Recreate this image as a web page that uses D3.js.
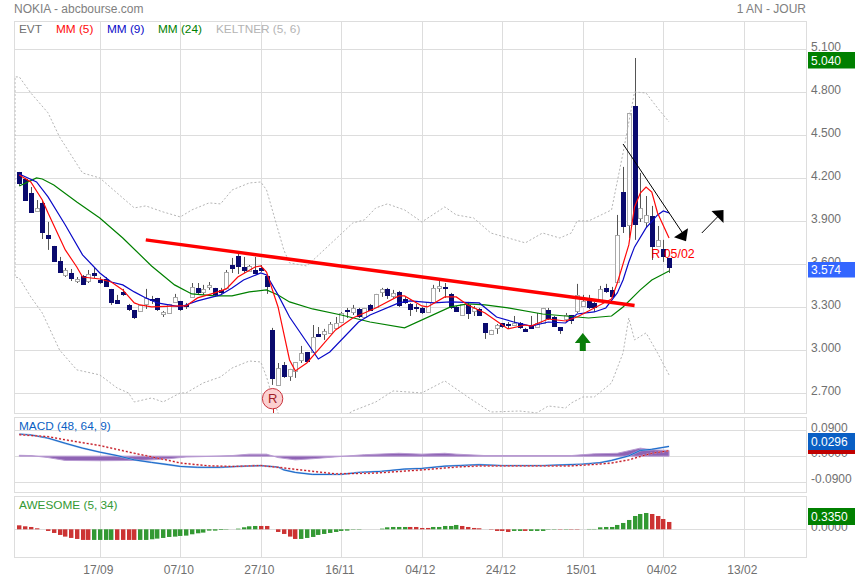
<!DOCTYPE html>
<html lang="fr">
<head>
    <meta charset="UTF-8">
    <title>NOKIA - abcbourse.com</title>
    <script src="https://d3js.org/d3.v7.min.js"></script>
    <style>
        * { margin: 0; padding: 0; box-sizing: border-box; }
        body { background: #fff; font-family: "Liberation Sans", Arial, sans-serif; overflow: hidden; }
        svg { display: block; }
        text { font-family: "Liberation Sans", Arial, sans-serif; }
        .grid line { stroke: #ddd; shape-rendering: crispEdges; }
        .grid .domain { display: none; }
        .labels .domain, .labels line { display: none; }
        .labels text { fill: #707070; font-size: 12px; }
    </style>
</head>
<body>
    <div id="chart"></div>
    <script>
        // dates sur l'axe du bas (un libellé toutes les 14 séances)
        const dateTicks = [14, 28, 42, 56, 70, 84, 98, 112, 126];
        const dateLabels = ["17/09", "07/10", "27/10", "16/11", "04/12", "24/12", "15/01", "04/02", "13/02"];
        const priceTicks = [2.7, 3.0, 3.3, 3.6, 3.9, 4.2, 4.5, 4.8, 5.1];
        const macdTicks = [-0.09, 0, 0.09];
        const aoTicks = [0];

        const opens = [4.244,4.195,4.094,3.972,4.028,3.804,3.728,3.623,3.525,3.539,3.483,3.518,3.483,3.539,3.490,3.497,3.428,3.351,3.407,3.316,
            3.281,3.274,3.323,3.358,3.365,3.253,3.260,3.337,3.344,3.316,3.372,3.435,3.407,3.442,3.435,3.421,3.435,3.595,3.658,3.581,
            3.553,3.560,3.574,3.518,3.142,2.758,2.897,2.821,2.856,2.932,2.988,2.988,3.114,3.114,3.121,3.156,3.197,3.281,3.267,3.288,
            3.232,3.316,3.302,3.407,3.428,3.379,3.407,3.358,3.323,3.302,3.295,3.267,3.337,3.435,3.442,3.393,3.302,3.246,3.316,3.274,
            3.288,3.190,3.114,3.156,3.190,3.183,3.176,3.190,3.149,3.176,3.162,3.190,3.281,3.232,3.162,3.218,3.246,3.274,3.309,3.344,
            3.330,3.344,3.435,3.421,3.476,4.104,3.874,4.704,3.923,3.895,3.937,3.728,3.707,3.644];
        const highs = [4.244,4.202,4.139,4.048,4.048,3.895,3.728,3.651,3.574,3.567,3.511,3.525,3.560,3.574,3.511,3.511,3.428,3.386,3.428,3.323,
            3.281,3.316,3.428,3.379,3.365,3.274,3.323,3.393,3.344,3.330,3.469,3.469,3.456,3.476,3.435,3.435,3.560,3.644,3.679,3.651,
            3.595,3.651,3.595,3.518,3.156,2.911,2.918,2.870,2.918,3.030,2.988,3.176,3.162,3.149,3.197,3.232,3.267,3.295,3.316,3.295,
            3.295,3.323,3.393,3.435,3.435,3.421,3.414,3.372,3.330,3.323,3.302,3.337,3.456,3.483,3.469,3.400,3.309,3.323,3.337,3.309,
            3.295,3.190,3.142,3.183,3.190,3.197,3.239,3.197,3.156,3.239,3.260,3.295,3.295,3.239,3.162,3.260,3.246,3.463,3.386,3.386,
            3.337,3.449,3.463,3.442,3.944,4.279,4.656,5.039,4.237,4.076,4.007,3.867,3.770,3.644];
        const lows = [4.146,4.042,3.958,3.965,3.776,3.700,3.616,3.539,3.511,3.483,3.469,3.456,3.469,3.504,3.463,3.442,3.316,3.323,3.379,3.274,
            3.218,3.274,3.288,3.323,3.274,3.232,3.260,3.337,3.274,3.288,3.365,3.386,3.386,3.421,3.372,3.393,3.435,3.539,3.532,3.539,
            3.546,3.532,3.546,3.393,2.758,2.758,2.807,2.786,2.807,2.911,2.918,2.988,3.093,3.072,3.121,3.156,3.197,3.225,3.246,3.225,
            3.232,3.274,3.302,3.372,3.358,3.365,3.302,3.323,3.239,3.267,3.253,3.267,3.337,3.407,3.365,3.288,3.267,3.246,3.218,3.239,
            3.239,3.079,3.114,3.114,3.156,3.149,3.169,3.149,3.128,3.149,3.162,3.190,3.211,3.162,3.114,3.197,3.183,3.260,3.302,3.288,
            3.267,3.344,3.400,3.365,3.476,3.818,3.783,3.770,3.895,3.853,3.630,3.728,3.616,3.539];
        const closes = [4.160,4.042,3.958,3.993,3.818,3.776,3.616,3.539,3.560,3.497,3.497,3.456,3.532,3.518,3.469,3.442,3.330,3.323,3.386,3.281,
            3.225,3.316,3.365,3.344,3.281,3.267,3.323,3.372,3.281,3.309,3.442,3.400,3.428,3.456,3.386,3.400,3.546,3.567,3.581,3.553,
            3.588,3.532,3.553,3.442,2.800,2.876,2.814,2.870,2.918,2.981,2.918,3.093,3.093,3.135,3.183,3.190,3.260,3.274,3.295,3.232,
            3.295,3.274,3.393,3.428,3.379,3.400,3.309,3.330,3.281,3.295,3.260,3.337,3.435,3.449,3.428,3.295,3.267,3.323,3.253,3.295,
            3.239,3.121,3.142,3.176,3.162,3.176,3.190,3.156,3.128,3.149,3.190,3.295,3.218,3.162,3.135,3.246,3.204,3.386,3.344,3.295,
            3.295,3.428,3.407,3.372,3.804,3.860,4.656,3.874,3.993,3.944,3.721,3.770,3.651,3.574];

        // moyennes mobiles et Keltner : relevés sur quelques séances
        const mm5Days = [0,2,4,5,8,10,11,14,16,18,20,21,23,28,29,31,34,36,38,41,42,43,45,47,48,50,52,55,58,62,66,67,70,71,74,76,78,81,84,85,88,89,92,95,97,100,103,104,106,107,108,109,110,111,113];
        const mm5Values = [4.223,4.174,4.048,3.958,3.700,3.581,3.511,3.497,3.476,3.421,3.330,3.316,3.302,3.309,3.309,3.365,3.400,3.428,3.511,3.581,3.588,3.546,3.302,2.932,2.856,2.911,3.002,3.142,3.225,3.295,3.379,3.379,3.309,3.302,3.372,3.372,3.316,3.260,3.176,3.149,3.176,3.169,3.218,3.204,3.232,3.295,3.358,3.469,3.735,4.000,4.097,4.139,4.104,3.958,3.783];
        const mm9Days = [0,3,5,8,11,14,16,18,20,22,24,28,31,35,37,39,42,43,45,47,52,54,59,61,66,68,72,75,80,83,86,89,92,95,97,100,102,104,105,106,107,109,111,112,113];
        const mm9Values = [4.230,4.174,4.070,3.874,3.665,3.539,3.476,3.456,3.407,3.365,3.330,3.302,3.344,3.386,3.435,3.490,3.539,3.525,3.386,3.232,2.939,2.988,3.197,3.246,3.330,3.344,3.330,3.337,3.330,3.232,3.197,3.169,3.197,3.190,3.253,3.267,3.295,3.400,3.490,3.616,3.721,3.853,3.944,3.972,3.958];
        const mm24Days = [0,3,4,6,10,14,18,23,27,30,34,37,40,43,45,47,51,56,61,67,75,78,81,85,91,97,99,103,105,108,110,113];
        const mm24Values = [4.146,4.202,4.195,4.153,4.035,3.923,3.783,3.588,3.456,3.393,3.379,3.379,3.407,3.421,3.386,3.337,3.288,3.246,3.197,3.156,3.302,3.323,3.316,3.295,3.253,3.232,3.225,3.239,3.302,3.421,3.490,3.553];
        const keltUpDays = [-0.75,0,2,5,7,11,14,17,20,22,25,28,30,33,35,37,40,42,43,44,46,47,50,53,58,60,62,64,67,70,74,76,79,82,88,91,94,96,97,99,103,105,107,109,111,113];
        const keltUpValues = [4.907,4.907,4.795,4.656,4.488,4.237,4.202,4.097,3.993,4.007,3.965,3.930,3.979,4.028,4.021,4.118,4.167,4.174,4.118,3.979,3.700,3.609,3.588,3.700,3.888,3.909,3.993,4.021,3.979,3.895,4.000,3.944,3.923,3.818,3.749,3.818,3.783,3.818,3.902,3.902,3.979,4.377,4.802,4.795,4.690,4.593];
        const keltLowDays = [-0.75,0,2,4,7,10,14,17,19,20,23,25,28,29,32,35,37,40,42,43,44,45,47,56,58,62,65,70,74,78,82,87,90,92,95,96,98,100,103,105,106,107,109,111,113];
        const keltLowValues = [3.511,3.504,3.372,3.260,3.002,2.863,2.828,2.737,2.702,2.639,2.667,2.639,2.702,2.702,2.772,2.814,2.876,2.925,2.918,2.814,2.674,2.563,2.374,2.528,2.576,2.639,2.716,2.702,2.786,2.674,2.569,2.576,2.563,2.611,2.597,2.632,2.674,2.674,2.772,2.981,3.225,3.072,3.121,2.981,2.828];

        const macdDays = [0,2,5,8,11,14,17,20,23,26,28,31,35,38,42,45,46,48,51,56,59,63,67,70,74,80,84,91,98,101,103,106,108,110,113];
        const macdValues = [0.077,0.074,0.063,0.045,0.028,0.014,0.002,-0.013,-0.022,-0.030,-0.036,-0.039,-0.039,-0.036,-0.033,-0.038,-0.048,-0.057,-0.064,-0.064,-0.057,-0.053,-0.045,-0.043,-0.035,-0.030,-0.033,-0.033,-0.028,-0.023,-0.015,0.001,0.020,0.024,0.034];
        const signalDays = [0,5,8,14,20,26,28,33,37,42,45,51,55,62,70,76,80,96,100,103,106,108,110,113];
        const signalValues = [0.075,0.068,0.057,0.037,0.010,-0.015,-0.024,-0.034,-0.036,-0.033,-0.039,-0.053,-0.062,-0.059,-0.048,-0.038,-0.034,-0.034,-0.029,-0.024,-0.013,-0.001,0.010,0.019];
        const histDays = [0,2,5,8,14,20,23,26,29,33,37,40,43,45,48,51,56,60,66,70,74,76,81,96,100,104,108,110,113];
        const histValues = [0.003,0.002,-0.005,-0.015,-0.016,-0.015,-0.013,-0.009,-0.003,-0.001,0.002,0.007,0.007,-0.005,-0.013,-0.009,-0.001,0.005,0.010,0.007,0.010,0.007,0.002,0.002,0.008,0.010,0.028,0.022,0.020];

        const aoValues = [0.182,0.137,0.106,0.046,0,-0.076,-0.167,-0.258,-0.334,-0.395,-0.441,-0.486,-0.486,-0.486,-0.486,-0.486,-0.486,-0.486,-0.486,-0.486,
            -0.486,-0.486,-0.486,-0.456,-0.426,-0.395,-0.350,-0.334,-0.304,-0.289,-0.228,-0.182,-0.152,-0.061,-0.061,-0.030,-0.015,0,0.030,0.091,
            0.137,0.152,0.152,0.152,0,-0.122,-0.213,-0.334,-0.441,-0.441,-0.395,-0.350,-0.258,-0.213,-0.167,-0.122,-0.076,-0.061,-0.015,-0.015,
            0,0,0,0.030,0.091,0.106,0.106,0.106,0.106,0.106,0.061,0.061,0.106,0.106,0.152,0.152,0.198,0.152,0.106,0.061,
            0.046,0,-0.015,-0.076,-0.076,-0.122,-0.076,-0.076,-0.076,-0.076,-0.076,-0.076,-0.015,-0.015,-0.015,-0.015,-0.015,-0.015,0,0.015,
            0.015,0.091,0.106,0.106,0.198,0.289,0.426,0.608,0.699,0.745,0.699,0.608,0.471,0.335];
        // 1 = barre verte (hausse), 0 = barre rouge
        const aoRising = [0,0,0,0,0,0,0,0,0,0,0,0,0,1,1,1,1,0,0,0,
            0,1,1,1,1,1,1,1,1,1,1,1,1,1,1,1,1,1,1,1,
            1,1,0,0,0,0,0,0,0,1,1,1,1,1,1,1,1,1,1,1,
            0,0,0,1,1,1,1,1,0,0,0,0,1,1,1,1,1,0,0,0,
            0,0,0,0,0,0,1,1,0,1,1,1,1,1,0,1,0,0,0,1,
            1,1,1,1,1,1,1,1,1,1,0,0,0,0];

        const trendDays = [22, 107];
        const trendValues = [3.770, 3.312];

        const width = 855, height = 580;
        const panelLeft = 14.5, panelRight = 806.5;

        const svg = d3.select("#chart").append("svg")
            .attr("width", width)
            .attr("height", height);

        const x = d3.scaleLinear().domain([0, 126]).range([19.3, 743.8]);
        const yPrice = d3.scaleLinear().domain([2.560, 5.295]).range([413.3, 21.3]);
        const yMacd = d3.scaleLinear().domain([-0.127, 0.135]).range([492.5, 417.5]);
        const yAo = d3.scaleLinear().domain([-1.279, 1.489]).range([557.3, 496.7]);

        const panels = [
            { y: yPrice, ticks: priceTicks, fmt: d3.format(".3f"), top: 21.5, bottom: 413.5 },
            { y: yMacd, ticks: macdTicks, fmt: d3.format(".4f"), top: 417.5, bottom: 492.5 },
            { y: yAo, ticks: aoTicks, fmt: d3.format(".4f"), top: 496.5, bottom: 557.5 }
        ];

        // grilles et cadres
        panels.forEach(p => {
            svg.append("g")
                .attr("class", "grid")
                .attr("transform", `translate(${panelLeft},0)`)
                .call(d3.axisRight(p.y).tickValues(p.ticks).tickSize(panelRight - panelLeft).tickFormat(""));

            const xGrid = d3.axisBottom(x).tickValues(dateTicks).tickSize(p.bottom - p.top).tickFormat("");
            svg.append("g")
                .attr("class", "grid")
                .attr("transform", `translate(0,${p.top})`)
                .call(xGrid);

            svg.append("rect")
                .attr("x", panelLeft)
                .attr("y", p.top)
                .attr("width", panelRight - panelLeft)
                .attr("height", p.bottom - p.top)
                .attr("fill", "none")
                .attr("stroke", "#ddd");

            const labels = svg.append("g")
                .attr("class", "labels")
                .attr("transform", "translate(811,-3)")
                .call(d3.axisRight(p.y).tickValues(p.ticks).tickSize(0).tickPadding(0).tickFormat(p.fmt));
            labels.selectAll("text").text(d => p.fmt(d).replace("−", "-"));
        });

        svg.append("defs").append("clipPath")
            .attr("id", "clip-main")
            .append("rect")
            .attr("x", panelLeft)
            .attr("y", 21.5)
            .attr("width", panelRight - panelLeft)
            .attr("height", 392);

        const main = svg.append("g").attr("clip-path", "url(#clip-main)");

        // bougies
        const candles = d3.range(opens.length);
        const bodyTop = i => Math.round(yPrice(Math.max(opens[i], closes[i])));
        const bodyBottom = i => Math.round(yPrice(Math.min(opens[i], closes[i])));

        main.selectAll(".wick")
            .data(candles)
            .join("line")
            .attr("class", "wick")
            .attr("x1", i => Math.round(x(i)) + 0.5)
            .attr("x2", i => Math.round(x(i)) + 0.5)
            .attr("y1", i => yPrice(highs[i]))
            .attr("y2", i => yPrice(lows[i]))
            .attr("stroke", "#555");

        main.selectAll(".body-up")
            .data(candles.filter(i => closes[i] >= opens[i]))
            .join("rect")
            .attr("class", "body-up")
            .attr("x", i => Math.round(x(i)) - 1.5)
            .attr("y", i => bodyTop(i) + 0.5)
            .attr("width", 4)
            .attr("height", i => Math.max(1, bodyBottom(i) - bodyTop(i)))
            .attr("fill", "#fff")
            .attr("stroke", "#a8a8a8");

        main.selectAll(".body-down")
            .data(candles.filter(i => closes[i] < opens[i]))
            .join("rect")
            .attr("class", "body-down")
            .attr("x", i => Math.round(x(i)) - 2)
            .attr("y", i => bodyTop(i))
            .attr("width", 5)
            .attr("height", i => Math.max(2, bodyBottom(i) - bodyTop(i)))
            .attr("fill", "#0a0a6e");

        // courbes sur le graphique principal
        function drawLine(parent, days, values, yScale, color, w, dash) {
            const line = d3.line().x(d => x(d[0])).y(d => yScale(d[1]));
            return parent.append("path")
                .datum(days.map((d, i) => [d, values[i]]))
                .attr("d", line)
                .attr("fill", "none")
                .attr("stroke", color)
                .attr("stroke-width", w)
                .attr("stroke-dasharray", dash || null);
        }

        const keltner = keltLowDays.map((d, i) => [d, keltLowValues[i]]).reverse()
            .concat(keltUpDays.map((d, i) => [d, keltUpValues[i]]));
        main.append("path")
            .datum(keltner)
            .attr("d", d3.line().x(d => x(d[0])).y(d => yPrice(d[1])))
            .attr("fill", "none")
            .attr("stroke", "#b4b4b4")
            .attr("stroke-dasharray", "2,2");

        drawLine(main, mm24Days, mm24Values, yPrice, "#008000", 1.2);
        drawLine(main, mm9Days, mm9Values, yPrice, "#0a0ac8", 1.2);
        drawLine(main, mm5Days, mm5Values, yPrice, "#ff0a0a", 1.2);

        // droite de tendance
        drawLine(main, trendDays, trendValues, yPrice, "#ff0000", 3.5);

        // flèches dessinées à la main
        const arrows = [
            { from: [105, 4.439], to: [115.6, 3.803], head: "4,-7 2,6 -10,2" },
            { from: [118.7, 3.818], to: [121.6, 3.937], head: "-7,-5 5,-6 5,7" }
        ];
        arrows.forEach(a => {
            main.append("line")
                .attr("x1", x(a.from[0])).attr("y1", yPrice(a.from[1]))
                .attr("x2", x(a.to[0])).attr("y2", yPrice(a.to[1]))
                .attr("stroke", "#000");
            main.append("polygon")
                .attr("transform", `translate(${x(a.to[0])},${yPrice(a.to[1])})`)
                .attr("points", a.head)
                .attr("fill", "#000");
        });

        // flèche verte
        main.append("polygon")
            .attr("transform", `translate(${x(98)},${yPrice(3.121)})`)
            .attr("points", "0,0 8,10 3,10 3,18 -3,18 -3,10 -8,10")
            .attr("fill", "#0a7d0a");

        // repère R
        const rx = x(44) + 0.3, ry = yPrice(2.662);
        main.append("line")
            .attr("x1", Math.round(rx) + 0.5).attr("x2", Math.round(rx) + 0.5)
            .attr("y1", ry).attr("y2", 413)
            .attr("stroke", "#c22");
        main.append("circle")
            .attr("cx", rx).attr("cy", ry).attr("r", 10.2)
            .attr("fill", "#fbd0d0")
            .attr("stroke", "#c8323c")
            .attr("stroke-width", 1);
        main.append("text")
            .attr("x", rx).attr("y", ry + 4.5)
            .attr("text-anchor", "middle")
            .attr("font-size", 13)
            .attr("fill", "#a01c28")
            .text("R");

        main.append("text")
            .attr("x", x(110) - 0.5).attr("y", 258)
            .attr("font-size", 12.4)
            .attr("fill", "#ff0000")
            .text("R 05/02");

        // MACD
        const histArea = d3.area()
            .x(d => x(d[0]))
            .y0(yMacd(0))
            .y1(d => yMacd(d[1]));
        svg.append("path")
            .datum(histDays.map((d, i) => [d, histValues[i]]))
            .attr("d", histArea)
            .attr("fill", "#8e63b4")
            .attr("stroke", "#b89ad2")
            .attr("stroke-width", 1);

        drawLine(svg, macdDays, macdValues, yMacd, "#8fb6e8", 1.8);
        drawLine(svg, macdDays, macdValues, yMacd, "#0a5fc4", 0.9);
        drawLine(svg, signalDays, signalValues, yMacd, "#eda0a6", 2, "2,2");
        drawLine(svg, signalDays, signalValues, yMacd, "#c0141e", 1, "2,2");

        // AWESOME
        svg.selectAll(".ao")
            .data(candles.filter(i => aoValues[i] !== 0))
            .join("rect")
            .attr("class", "ao")
            .attr("x", i => Math.round(x(i)) - 2)
            .attr("y", i => yAo(Math.max(aoValues[i], 0)))
            .attr("width", 4.4)
            .attr("height", i => Math.abs(yAo(aoValues[i]) - yAo(0)))
            .attr("fill", i => aoRising[i] ? "#339933" : "#cc3333");

        // axe des dates
        const xAxis = svg.append("g")
            .attr("transform", "translate(-2,557.5)")
            .call(d3.axisBottom(x).tickValues(dateTicks).tickSize(0).tickPadding(8)
                .tickFormat((d, i) => dateLabels[i]));
        xAxis.select(".domain").remove();
        xAxis.selectAll("text")
            .attr("fill", "#707070")
            .style("font-size", "12px");

        // titres et légendes
        svg.append("text").attr("x", 14).attr("y", 13).attr("fill", "#808080")
            .attr("font-size", 12).text("NOKIA - abcbourse.com");
        svg.append("text").attr("x", 806).attr("y", 13).attr("fill", "#808080")
            .attr("text-anchor", "end").attr("font-size", 12).text("1 AN - JOUR");

        const legends = [
            { label: "EVT", px: 19, py: 33, color: "#707070" },
            { label: "MM (5)", px: 56, py: 33, color: "#ff0a0a" },
            { label: "MM (9)", px: 107, py: 33, color: "#0a0ac8" },
            { label: "MM (24)", px: 158, py: 33, color: "#008000" },
            { label: "KELTNER (5, 6)", px: 216, py: 33, color: "#b4b4b4" },
            { label: "MACD (48, 64, 9)", px: 19, py: 430, color: "#0a5fc4" },
            { label: "AWESOME (5, 34)", px: 19, py: 509, color: "#339933" }
        ];
        svg.selectAll(".legend")
            .data(legends)
            .join("text")
            .attr("class", "legend")
            .attr("x", d => d.px)
            .attr("y", d => d.py)
            .attr("fill", d => d.color)
            .attr("font-size", 11.8)
            .text(d => d.label);

        // étiquettes de valeur à droite
        const tags = [
            { label: "5.040", top: 52, h: 16.5, color: "#008000" },
            { label: "3.574", top: 262, h: 15.5, color: "#3366ff" },
            { label: "0.0296", top: 433, h: 17, color: "#0a5fc4" },
            { label: "0.3350", top: 508, h: 17, color: "#008000" }
        ];
        svg.append("rect").attr("x", 808).attr("y", 450).attr("width", 47).attr("height", 4).attr("fill", "#c00000");
        const tagGroups = svg.selectAll(".tag").data(tags).join("g").attr("class", "tag");
        tagGroups.append("rect")
            .attr("x", 808).attr("y", d => d.top)
            .attr("width", 47).attr("height", d => d.h)
            .attr("fill", d => d.color);
        tagGroups.append("text")
            .attr("x", 811).attr("y", d => d.top + d.h / 2 + 4.5)
            .attr("fill", "#fff")
            .attr("font-size", 12)
            .text(d => d.label);
    </script>
</body>
</html>
